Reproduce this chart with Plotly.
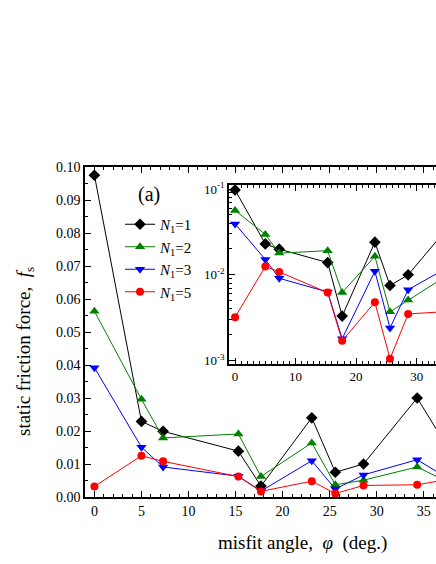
import plotly.graph_objects as go

# misfit angles (deg.)
angle = [0, 5.0, 7.3, 15.3, 17.7, 23.1, 25.6, 28.6, 34.3, 38.5]

# static friction force f_s per N1
fs_n1 = [0.0975, 0.0229, 0.0199, 0.0139, 0.0033, 0.0240, 0.0075, 0.0100, 0.0300, 0.0105]
fs_n2 = [0.0563, 0.0296, 0.0179, 0.0191, 0.0062, 0.0164, 0.0037, 0.0051, 0.0091, 0.0032]
fs_n3 = [0.0392, 0.0151, 0.0091, 0.0063, 0.0018, 0.0110, 0.0024, 0.0067, 0.0113, 0.0040]
fs_n5 = [0.0032, 0.0125, 0.0108, 0.0062, 0.0017, 0.0048, 0.00105, 0.0035, 0.0037, 0.0058]

series = [
    ('<i>N</i><sub>1</sub>=1', fs_n1, 'black', 'diamond', 9),
    ('<i>N</i><sub>1</sub>=2', fs_n2, '#008000', 'triangle-up', 9),
    ('<i>N</i><sub>1</sub>=3', fs_n3, '#0000ff', 'triangle-down', 9),
    ('<i>N</i><sub>1</sub>=5', fs_n5, '#ff0000', 'circle', 8),
]

FONT = 'Liberation Serif, Times New Roman, serif'

W, H = 436, 564
PL, PR, PT, PB = 85, 436, 167, 497   # main plot box, pixels
PW, PH = PR - PL, PB - PT


def px(x):
    return (x - PL) / PW


def py(y):
    return (PB - y) / PH


fig = go.Figure()

# main panel (linear)
for name, ys, col, sym, sz in series:
    fig.add_trace(go.Scatter(
        x=angle, y=ys, name=name, mode='lines+markers',
        line=dict(color=col, width=1),
        marker=dict(symbol=sym, size=sz, color=col),
        xaxis='x', yaxis='y',
    ))

# inset (log)
for name, ys, col, sym, sz in series:
    fig.add_trace(go.Scatter(
        x=angle, y=ys, name=name, mode='lines+markers',
        line=dict(color=col, width=1),
        marker=dict(symbol=sym, size=sz, color=col),
        xaxis='x2', yaxis='y2', showlegend=False,
    ))

axis_common = dict(
    showline=True, linecolor='black', linewidth=1.5,
    ticks='inside', tickcolor='black', tickwidth=1,
    showgrid=False, zeroline=False,
    tickfont=dict(family=FONT, size=14, color='black'),
)
inset_font = dict(family=FONT, size=13, color='black')

minor_dec = [m * 10 ** e for e in (-3, -2, -1) for m in range(2, 10)]

fig.update_layout(
    width=W, height=H,
    paper_bgcolor='white', plot_bgcolor='white',
    margin=dict(l=PL, r=W - PR, t=PT, b=H - PB),
    font=dict(family=FONT, color='black'),
    xaxis=dict(
        **axis_common, domain=[0, 1], range=[-1, 36.3],
        tick0=0, dtick=5, ticklen=6, mirror='ticks',
        minor=dict(dtick=1, ticklen=3, ticks='inside', tickcolor='black'),
    ),
    yaxis=dict(
        **axis_common, domain=[0, 1], range=[0, 0.1],
        tick0=0, dtick=0.01, tickformat='.2f', ticklen=6,
        minor=dict(dtick=0.005, ticklen=3, ticks='inside', tickcolor='black'),
    ),
    xaxis2=dict(
        **{**axis_common, 'tickfont': inset_font},
        domain=[px(229), 1], range=[-1, 33.2], anchor='y2',
        tick0=0, dtick=10, ticklen=6, mirror='ticks',
        minor=dict(dtick=1, ticklen=3, ticks='inside', tickcolor='black'),
    ),
    yaxis2=dict(
        **{**axis_common, 'tickfont': inset_font},
        domain=[py(364), py(185)], type='log', range=[-3.04, -0.953], anchor='x2',
        tickmode='array', tickvals=[0.001, 0.01, 0.1],
        ticktext=['10<sup>-3</sup>', '10<sup>-2</sup>', '10<sup>-1</sup>'],
        ticklen=6,
        minor=dict(tickmode='array', tickvals=minor_dec, ticklen=3,
                   ticks='inside', tickcolor='black'),
    ),
    legend=dict(
        x=px(120), y=py(208), xanchor='left', yanchor='top',
        bgcolor='rgba(0,0,0,0)', borderwidth=0,
        font=dict(family=FONT, size=15, color='black'),
        tracegroupgap=0, itemwidth=30,
    ),
    showlegend=True,
)

notes = [
    ('(a)', 149, 194, 0, 20),
    ('static friction force,  <i>f</i><sub>s</sub>', 25, 352, -90, 19),
    ('misfit angle,  <i>φ</i>  (deg.)', 302, 543, 0, 19),
]
for text, nx, ny, ang, size in notes:
    fig.add_annotation(
        text=text, textangle=ang, xref='paper', yref='paper',
        x=px(nx), y=py(ny), xanchor='center', yanchor='middle',
        showarrow=False, font=dict(family=FONT, size=size, color='black'),
    )

# the page's default 8px body margin would push the figure out of the window
fig.write_html('out.html', config={'displayModeBar': False},
               post_script="document.body.style.margin='0';"
                           "document.body.style.overflow='hidden';")
